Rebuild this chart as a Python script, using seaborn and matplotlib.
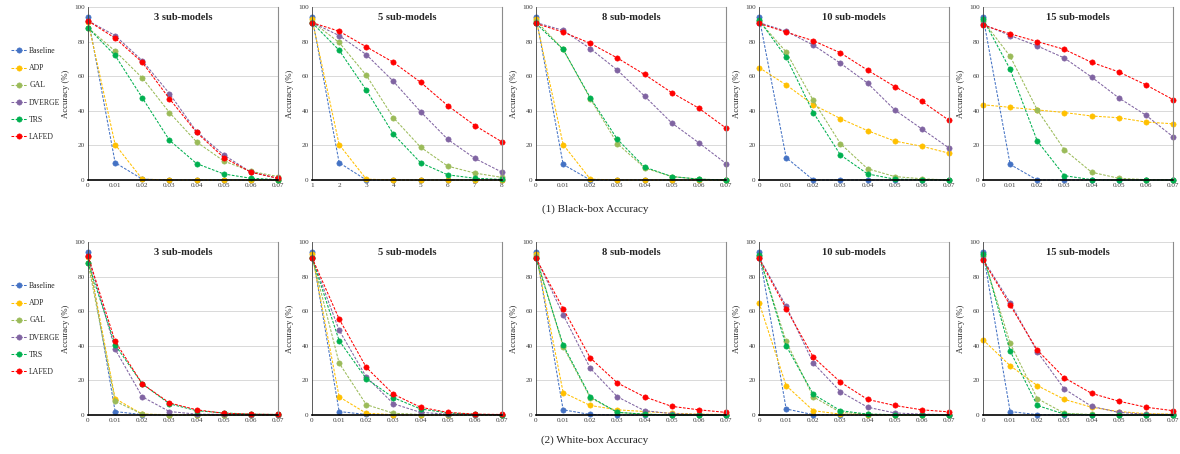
import matplotlib
matplotlib.use("Agg")
import matplotlib.pyplot as plt
import seaborn as sns
import pandas as pd

sns.set_theme(style="white")
plt.rcParams['font.family'] = ['Liberation Serif', 'DejaVu Serif']

methods = ["Baseline", "ADP", "GAL", "DVERGE", "TRS", "LAFED"]
colors = ["#4472C4", "#FFC000", "#9BBB59", "#8064A2", "#00B050", "#FF0000"]

eps = [0, 0.01, 0.02, 0.03, 0.04, 0.05, 0.06, 0.07]
eps_labels = ["0", "0.01", "0.02", "0.03", "0.04", "0.05", "0.06", "0.07"]
steps = [1, 2, 3, 4, 5, 6, 7, 8]
steps_labels = ["1", "2", "3", "4", "5", "6", "7", "8"]
panel_titles = ["3 sub-models", "5 sub-models", "8 sub-models", "10 sub-models", "15 sub-models"]
captions = ["(1) Black-box Accuracy", "(2) White-box Accuracy"]

# ---- Black-box accuracy ----
bb3_baseline = [94, 10, 0.5, 0, 0, 0, 0, 0]
bb3_adp = [91.5, 20.5, 0.5, 0, 0, 0, 0, 0]
bb3_gal = [88, 74.5, 59, 39, 22, 11, 5, 2]
bb3_dverge = [92, 83.5, 69, 50, 28, 14.5, 4.5, 1]
bb3_trs = [88, 72, 47.5, 23, 9.5, 3.5, 1, 0.2]
bb3_lafed = [92, 82, 68, 47, 27.5, 13, 4.5, 1]

bb5_baseline = [94.5, 10, 0, 0, 0, 0, 0, 0]
bb5_adp = [93, 20.5, 0.5, 0, 0, 0, 0, 0]
bb5_gal = [91.5, 79.5, 60.5, 36, 19, 8, 4, 1.5]
bb5_dverge = [91, 83.5, 72.5, 57, 39.5, 23.5, 12.5, 4.5]
bb5_trs = [91, 75, 52, 26.5, 10, 3, 1, 0.3]
bb5_lafed = [91, 86, 77, 68, 56.5, 43, 31.5, 22]

bb8_baseline = [94.5, 9, 0, 0, 0, 0, 0, 0]
bb8_adp = [93, 20.5, 0.5, 0, 0, 0, 0, 0]
bb8_gal = [92, 75.5, 47, 21, 7, 2, 0.5, 0]
bb8_dverge = [91, 86.5, 76, 63.5, 48.5, 33, 21.5, 9.5]
bb8_trs = [90.5, 75.5, 47.5, 23.5, 7.5, 2, 0.5, 0]
bb8_lafed = [90.5, 85.5, 79, 70.5, 61, 50.5, 41.5, 30]

bb10_baseline = [94.5, 13, 0, 0, 0, 0, 0, 0]
bb10_adp = [65, 55, 43.5, 35.5, 28.5, 22.5, 19.5, 15.5]
bb10_gal = [92, 74, 46, 21, 6.5, 2, 0.7, 0]
bb10_dverge = [91, 86, 78, 67.5, 56, 40.5, 29.5, 18.5]
bb10_trs = [92.5, 71, 39, 14.5, 3.5, 0.5, 0.2, 0]
bb10_lafed = [90.5, 85.5, 80.5, 73.5, 63.5, 54, 45.5, 34.5]

bb15_baseline = [94.5, 9, 0, 0, 0, 0, 0, 0]
bb15_adp = [43.5, 42, 40.5, 39, 37, 36, 33.5, 32.5]
bb15_gal = [92, 71.5, 40.5, 17.5, 4.5, 1, 0.2, 0]
bb15_dverge = [90, 83.5, 77.5, 70.5, 59.5, 47.5, 37.5, 25]
bb15_trs = [93, 64, 22.5, 2.5, 0.2, 0, 0, 0]
bb15_lafed = [89.5, 84.5, 80, 75.5, 68, 62.5, 55, 46.5]

# ---- White-box accuracy ----
wb3_baseline = [94, 2, 0.2, 0, 0, 0, 0, 0]
wb3_adp = [91.5, 9.5, 0.5, 0.2, 0, 0, 0, 0]
wb3_gal = [88, 8, 0.5, 0, 0, 0, 0, 0]
wb3_dverge = [92, 38, 10.5, 2, 0.5, 0.3, 0, 0]
wb3_trs = [88, 40.5, 18, 6.5, 2.5, 1.2, 0.5, 0.3]
wb3_lafed = [92, 42.5, 18, 7, 3, 1, 0.5, 0.3]

wb5_baseline = [94.5, 2, 0.3, 0, 0, 0, 0, 0]
wb5_adp = [93, 10.5, 1, 0.2, 0, 0, 0, 0]
wb5_gal = [91.5, 30, 6, 1, 0.3, 0, 0, 0]
wb5_dverge = [91, 49, 22, 6.5, 1.5, 0.5, 0.2, 0]
wb5_trs = [91, 43, 21, 10, 3.5, 1.2, 0.4, 0.2]
wb5_lafed = [91, 55.5, 27.5, 12, 4.5, 1.5, 0.5, 0.3]

wb8_baseline = [94.5, 3, 0.3, 0, 0, 0, 0, 0]
wb8_adp = [93, 13, 5.5, 3, 2, 1, 0.5, 0.3]
wb8_gal = [92, 39.5, 10, 1.5, 0.5, 0, 0, 0]
wb8_dverge = [91, 58, 27, 10.5, 2.5, 0.8, 0.3, 0]
wb8_trs = [90.5, 40.5, 10.5, 1.5, 0.5, 0, 0, 0]
wb8_lafed = [90.5, 61.5, 33, 18.5, 10.5, 5, 3, 1.5]

wb10_baseline = [94.5, 3.5, 0.2, 0, 0, 0, 0, 0]
wb10_adp = [65, 17, 2.5, 0.5, 0.2, 0, 0, 0]
wb10_gal = [92, 42.5, 10.5, 1.5, 0.5, 0.2, 0, 0]
wb10_dverge = [91, 63, 30, 13.5, 4.5, 1.2, 0.5, 0.2]
wb10_trs = [92.5, 40, 12, 2.5, 0.5, 0.2, 0, 0]
wb10_lafed = [90.5, 61.5, 33.5, 19, 9, 5.5, 3, 1.8]

wb15_baseline = [94.5, 2, 0.2, 0, 0, 0, 0, 0]
wb15_adp = [43.5, 28.5, 17, 9, 4.5, 2, 0.8, 0.5]
wb15_gal = [92, 41.5, 9.5, 1, 0.3, 0, 0, 0]
wb15_dverge = [90, 65, 36.5, 15, 5, 1.5, 0.5, 0.3]
wb15_trs = [93, 37, 5.5, 0.5, 0.2, 0, 0, 0]
wb15_lafed = [89.5, 63.5, 37.5, 21.5, 12.5, 8, 4.5, 2.5]

rows = [
    [
        [bb3_baseline, bb3_adp, bb3_gal, bb3_dverge, bb3_trs, bb3_lafed],
        [bb5_baseline, bb5_adp, bb5_gal, bb5_dverge, bb5_trs, bb5_lafed],
        [bb8_baseline, bb8_adp, bb8_gal, bb8_dverge, bb8_trs, bb8_lafed],
        [bb10_baseline, bb10_adp, bb10_gal, bb10_dverge, bb10_trs, bb10_lafed],
        [bb15_baseline, bb15_adp, bb15_gal, bb15_dverge, bb15_trs, bb15_lafed],
    ],
    [
        [wb3_baseline, wb3_adp, wb3_gal, wb3_dverge, wb3_trs, wb3_lafed],
        [wb5_baseline, wb5_adp, wb5_gal, wb5_dverge, wb5_trs, wb5_lafed],
        [wb8_baseline, wb8_adp, wb8_gal, wb8_dverge, wb8_trs, wb8_lafed],
        [wb10_baseline, wb10_adp, wb10_gal, wb10_dverge, wb10_trs, wb10_lafed],
        [wb15_baseline, wb15_adp, wb15_gal, wb15_dverge, wb15_trs, wb15_lafed],
    ],
]

W, H = 1180, 454
fig = plt.figure(figsize=(W / 100, H / 100), dpi=100)

lefts_px = [88, 312, 536, 759, 983]
width_px = 190
row_tops_px = [7, 242]
height_px = 173
caption_y_px = [209, 440]

dash = (0, (2.6, 1.4))

for r in range(2):
    for p in range(5):
        l = lefts_px[p] / W
        b = 1 - (row_tops_px[r] + height_px) / H
        ax = fig.add_axes([l, b, width_px / W, height_px / H])
        use_steps = (r == 0 and p == 1)
        xs = steps if use_steps else eps
        xl = steps_labels if use_steps else eps_labels
        for m, c, ys in zip(methods, colors, rows[r][p]):
            df = pd.DataFrame({"x": xs, "y": ys})
            sns.lineplot(data=df, x="x", y="y", ax=ax, color=c, marker="o",
                         markersize=3.8, markeredgewidth=0.4, markeredgecolor=c,
                         linewidth=0.75, linestyle=dash, label=m,
                         clip_on=False, legend=False)
        ax.set_xlim(xs[0], xs[-1])
        ax.set_ylim(0, 100)
        ax.set_xticks(xs)
        ax.set_xticklabels(xl)
        ax.set_yticks([0, 20, 40, 60, 80, 100])
        ax.set_yticklabels(["0", "20", "40", "60", "80", "100"])
        ax.tick_params(axis="both", length=0, labelsize=5.2, labelcolor="#404040", pad=2.5)
        ax.yaxis.grid(True, color="#d9d9d9", linewidth=0.7)
        ax.xaxis.grid(False)
        ax.set_axisbelow(True)
        ax.set_xlabel("")
        ax.set_ylabel("Accuracy (%)", fontsize=6.2, labelpad=2.5)
        ax.spines["top"].set_visible(False)
        ax.spines["right"].set_color("#8c8c8c")
        ax.spines["right"].set_linewidth(0.8)
        ax.spines["left"].set_color("#404040")
        ax.spines["left"].set_linewidth(0.6)
        ax.spines["bottom"].set_color("black")
        ax.spines["bottom"].set_linewidth(1.2)
        ax.text(0.5, 0.942, panel_titles[p], transform=ax.transAxes, ha="center",
                va="center", fontsize=7.6, fontweight="bold")
        if p == 0:
            handles = ax.get_lines()[:6]
            leg_center = (row_tops_px[r] + 87) / H
            fig.legend(handles, methods, loc="center left",
                       bbox_to_anchor=(0.007, 1 - leg_center), frameon=False,
                       fontsize=5.6, handlelength=2.0, handletextpad=0.3,
                       labelspacing=1.18, borderaxespad=0)
    fig.text(595 / W, 1 - caption_y_px[r] / H, captions[r], ha="center", va="center",
             fontsize=8)

fig.savefig("out.png", dpi=100)
